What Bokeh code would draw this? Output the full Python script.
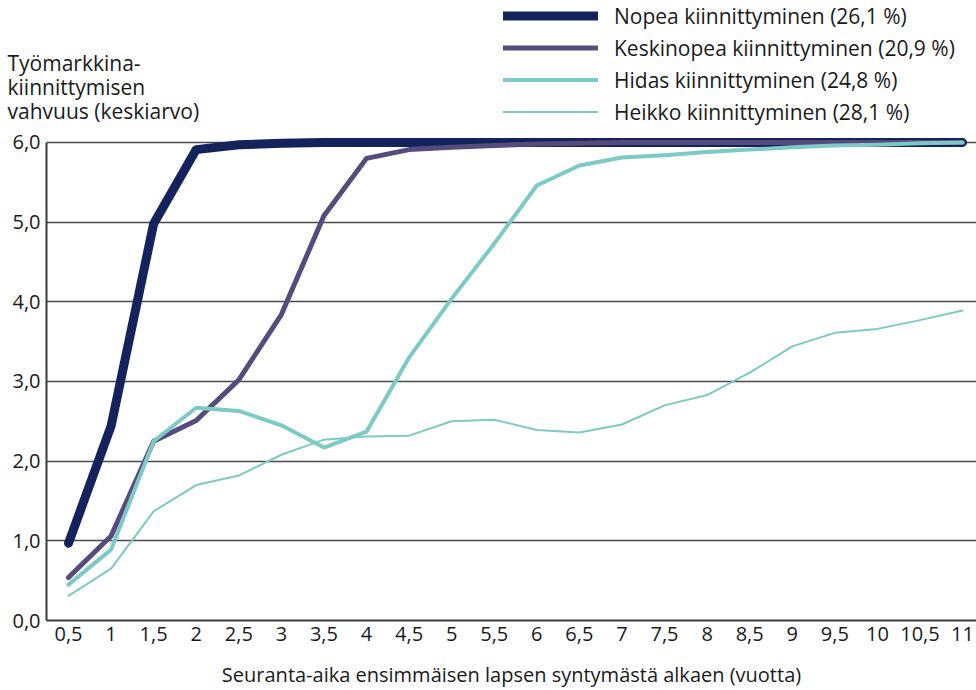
from bokeh.plotting import figure
from bokeh.layouts import column, row
from bokeh.models import FixedTicker, Legend, LegendItem, Label, Range1d, Plot
from bokeh.embed import file_html
from bokeh.resources import INLINE

# ---- data ----
years = [0.5, 1, 1.5, 2, 2.5, 3, 3.5, 4, 4.5, 5, 5.5, 6, 6.5, 7, 7.5, 8, 8.5, 9, 9.5, 10, 10.5, 11]
year_labels = ["0,5", "1", "1,5", "2", "2,5", "3", "3,5", "4", "4,5", "5", "5,5", "6", "6,5", "7",
               "7,5", "8", "8,5", "9", "9,5", "10", "10,5", "11"]
y_ticks = [0, 1, 2, 3, 4, 5, 6]
y_tick_labels = ["0,0", "1,0", "2,0", "3,0", "4,0", "5,0", "6,0"]

nopea = [0.97, 2.44, 4.98, 5.91, 5.97, 5.99, 6.00, 6.00, 6.00, 6.00, 6.00, 6.00, 6.00, 6.00,
         6.00, 6.00, 6.00, 6.00, 6.00, 6.00, 6.00, 6.00]
keskinopea = [0.54, 1.06, 2.25, 2.51, 3.02, 3.84, 5.08, 5.80, 5.91, 5.94, 5.96, 5.98, 5.99, 6.00,
              6.00, 6.00, 6.00, 6.00, 6.00, 6.00, 6.00, 6.00]
hidas = [0.45, 0.89, 2.25, 2.67, 2.63, 2.45, 2.17, 2.37, 3.30, 4.04, 4.73, 5.46, 5.71, 5.81,
         5.84, 5.88, 5.91, 5.94, 5.96, 5.97, 5.99, 6.00]
heikko = [0.31, 0.65, 1.37, 1.70, 1.82, 2.08, 2.27, 2.31, 2.32, 2.50, 2.52, 2.39, 2.36, 2.46,
          2.70, 2.83, 3.11, 3.44, 3.61, 3.66, 3.77, 3.89]

series_names = ["Nopea kiinnittyminen (26,1 %)", "Keskinopea kiinnittyminen (20,9 %)",
                "Hidas kiinnittyminen (24,8 %)", "Heikko kiinnittyminen (28,1 %)"]
series_values = [nopea, keskinopea, hidas, heikko]
series_colors = ["#14235B", "#574A7D", "#7DC9C6", "#7DC9C6"]
series_widths = [9, 5, 4, 2]

y_title_lines = ["Työmarkkina-", "kiinnittymisen", "vahvuus (keskiarvo)"]
x_title = "Seuranta-aika ensimmäisen lapsen syntymästä alkaen (vuotta)"

FONT = "Open Sans"
TXT = "#1a1a1a"
W = 976
H_TOP = 126
H_MAIN = 564
HAS_FRAME_ALIGN = "frame_align" in Plot.properties()

# ---------------- header strip: y-axis title + legend ----------------
top = figure(width=W, height=H_TOP, output_backend="svg", toolbar_location=None,
             x_axis_location=None, y_axis_location=None,
             x_range=Range1d(0, 1), y_range=Range1d(0, 1),
             min_border_left=0, min_border_right=0, min_border_top=0, min_border_bottom=0)
top.outline_line_color = None
top.xgrid.visible = False
top.ygrid.visible = False
top.border_fill_color = "white"
top.background_fill_color = "white"

legend_renderers = []
for vals, col, w in zip(series_values, series_colors, series_widths):
    r = top.line(years, vals, line_color=col, line_width=w, line_cap="round", line_join="round",
                 visible=False)
    legend_renderers.append(r)

legend = Legend(items=[LegendItem(label=n, renderers=[r]) for n, r in zip(series_names, legend_renderers)],
                location=(503, 0), orientation="vertical", padding=0, margin=0,
                border_line_color=None, background_fill_alpha=0,
                glyph_width=95, glyph_height=29, label_height=29, spacing=3, label_standoff=16,
                label_text_font=FONT, label_text_font_size="21px", label_text_color=TXT)
top.add_layout(legend)

for i, line in enumerate(y_title_lines):
    top.add_layout(Label(x=7, y=H_TOP - 62 - 24 * i, x_units="screen", y_units="screen", text=line,
                         text_font=FONT, text_font_size="21px", text_color=TXT,
                         text_baseline="middle", text_align="left"))

# ---------------- main chart ----------------
p = figure(width=W, height=H_MAIN, output_backend="svg", toolbar_location=None,
           x_range=Range1d(0.2416, 11.164), y_range=Range1d(0, 6.2),
           min_border_left=46, min_border_right=0, min_border_top=0, min_border_bottom=68)
p.outline_line_color = None
p.background_fill_color = "white"
p.border_fill_color = "white"

for vals, col, w in zip(series_values, series_colors, series_widths):
    p.line(years, vals, line_color=col, line_width=w, line_cap="round", line_join="round")

p.xgrid.visible = False
p.ygrid.ticker = FixedTicker(ticks=y_ticks)
p.ygrid.grid_line_color = "#4a4a4a"
p.ygrid.grid_line_width = 1.3

xa = p.xaxis[0]
xa.ticker = FixedTicker(ticks=years)
xa.major_label_overrides = {float(t): l for t, l in zip(years, year_labels)}
ya = p.yaxis[0]
ya.ticker = FixedTicker(ticks=y_ticks)
ya.major_label_overrides = {float(t): l for t, l in zip(y_ticks, y_tick_labels)}
ya.bounds = (0, 6)
for ax in (xa, ya):
    ax.axis_line_color = "#3a3a3a"
    ax.axis_line_width = 2
    ax.major_tick_out = 0
    ax.major_tick_in = 0
    ax.minor_tick_out = 0
    ax.minor_tick_in = 0
    ax.major_label_text_font = FONT
    ax.major_label_text_font_size = "20px"
    ax.major_label_text_color = TXT
xa.major_label_standoff = 6
ya.major_label_standoff = 6

xa.axis_label = x_title
xa.axis_label_text_font = FONT
xa.axis_label_text_font_size = "20px"
xa.axis_label_text_font_style = "normal"
xa.axis_label_text_color = TXT
xa.axis_label_standoff = 17

if HAS_FRAME_ALIGN:
    top.frame_align = False
    p.frame_align = False
    layout = column(top, p, spacing=0)
else:
    layout = column(row(top, spacing=0), p, spacing=0)

open("out.html", "w").write(file_html(layout, INLINE))
